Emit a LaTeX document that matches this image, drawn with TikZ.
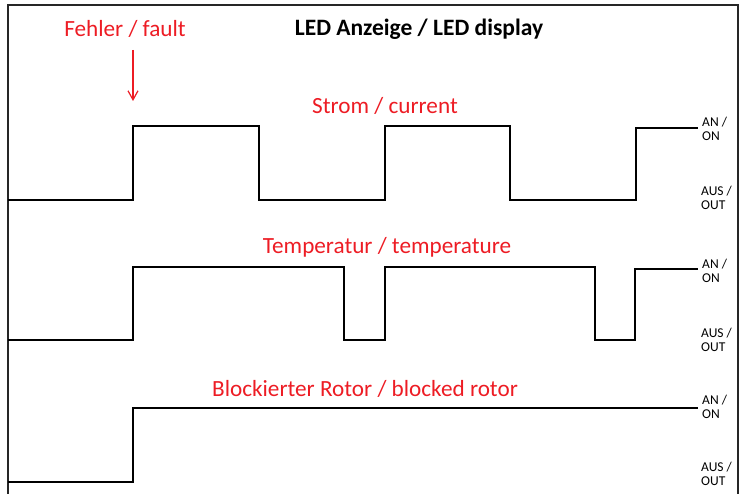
\documentclass[tikz,border=0pt]{standalone}
\usepackage{fontspec}
\setmainfont{Carlito}
\usetikzlibrary{arrows.meta}
\definecolor{redlbl}{RGB}{237,28,36}
\tikzset{
  wave/.style={line width=1.6pt, black, line join=miter},
  frameline/.style={line width=1.2pt, black!85},
  redtext/.style={text=redlbl, font=\fontsize{23.2}{27}\selectfont, inner sep=0pt},
  titletext/.style={font=\bfseries\fontsize{23.5}{27}\selectfont, inner sep=0pt},
  statetext/.style={font=\fontsize{13.5}{14.5}\selectfont, align=left, inner sep=0pt, anchor=west},
  faultarrow/.style={draw=redlbl, line width=1.2pt, -{Straight Barb[length=9pt,width=10pt]}}
}
\begin{document}
\begin{tikzpicture}[x=1pt,y=-1pt]
\useasboundingbox (0,0) rectangle (741,494);
\draw[frameline] (8,494) -- (8,5) -- (738,5) -- (738,494);
% titles
\node[titletext] (title) at (419,29) {LED Anzeige / LED display};
\node[redtext] (fault) at (125,29) {Fehler / fault};
\coordinate (fstart) at (133,50);
\coordinate (fend) at (133,101);
\draw[faultarrow] (fstart) -- (fend);
% row 1
\node[redtext] (strom) at (385,106) {Strom / current};
\draw[wave] (8,200) -- (133,200) -- (133,126) -- (259,126) -- (259,200) -- (385,200) -- (385,126) -- (510,126) -- (510,200) -- (636,200) -- (636,128) -- (698,128);
\node[statetext] (on1) at (702,129) {AN /\\ON};
\node[statetext] (off1) at (701,198) {AUS /\\OUT};
% row 2
\node[redtext] (temp) at (387,247) {Temperatur / temperature};
\draw[wave] (8,340) -- (133,340) -- (133,267) -- (344,267) -- (344,340) -- (385,340) -- (385,267) -- (595,267) -- (595,340) -- (635,340) -- (635,269) -- (698,269);
\node[statetext] (on2) at (702,271) {AN /\\ON};
\node[statetext] (off2) at (701,340) {AUS /\\OUT};
% row 3
\node[redtext] (rotor) at (365,389) {Blockierter Rotor / blocked rotor};
\draw[wave] (8,482) -- (133,482) -- (133,408) -- (698,408);
\node[statetext] (on3) at (702,407) {AN /\\ON};
\node[statetext] (off3) at (701,474) {AUS /\\OUT};
\end{tikzpicture}
\end{document}
